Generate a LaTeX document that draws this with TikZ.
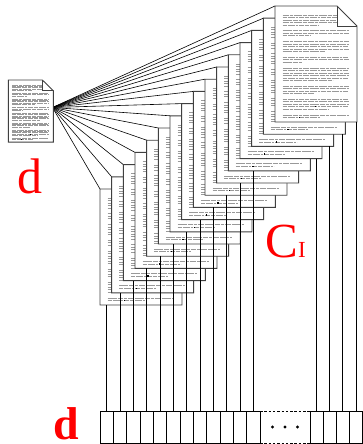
\documentclass[tikz,border=0pt]{standalone}
\usepackage{fontspec}
\setmainfont{Liberation Serif}
\usetikzlibrary{calc}

\tikzset{
  pageedge/.style={draw=black!75, line width=0.9pt, fill=white, line join=miter},
  foldedge/.style={draw=black!75, line width=0.7pt},
  rowA/.style={draw=black!40, dash pattern=on 6pt off 1pt on 3pt off 1pt on 8pt off 1pt on 4pt off 1pt},
  rowB/.style={draw=black!40, dash pattern=on 4pt off 1pt on 7pt off 1pt on 2pt off 1pt on 5pt off 1pt},
  rowC/.style={draw=black!40, dash pattern=on 9pt off 1pt on 5pt off 1pt on 3pt off 1pt on 6pt off 1pt},
  fanline/.style={draw=black, line width=0.6pt},
  drop/.style={draw=black, line width=0.7pt},
  cell/.style={draw=black, line width=0.8pt, minimum width=13.333pt, minimum height=32pt,
               inner sep=0pt, outer sep=0pt, anchor=north west},
  redlbl/.style={text=red, inner sep=0pt, anchor=base west}
}

% one page: outline with a folded corner, paragraphs of running text
\newcommand\pagebody[1]{%
  \path[pageedge] (0,0) -- (62,0) -- (82,20) -- (82,116) -- (0,116) -- cycle;
  \draw[foldedge] (62,0) -- (62,20) -- (82,20);
  \foreach \yy/\ll/\st in {
      9/54/A, 11.5/54/B, 14/54/C, 16.5/54/A, 19/36/B,
      24.7/66/C, 27.2/66/A, 29.7/28/B,
      35.4/66/A, 37.9/66/C, 40.4/66/B, 42.9/66/A, 45.4/42/C,
      51.1/66/B, 53.6/66/A, 56.1/20/C,
      61.8/66/C, 64.3/66/B, 66.8/66/A, 69.3/66/C, 71.8/66/B, 74.3/50/A,
      80/66/A, 82.5/66/C, 85/66/B, 87.5/32/A,
      93.2/66/B, 95.7/66/A, 98.2/66/C, 100.7/66/B, 103.2/46/A,
      108.9/66/C, 111.4/38/B}
    \draw[row\st, line width=#1] (7.5,\yy) -- ++(\ll,0);
  \fill[black] (40,101.4) rectangle ++(1.3,-1.3);
  \fill[black] (24,112.1) rectangle ++(1.3,-1.3);
}

\begin{document}
\begin{tikzpicture}[x=1pt,y=-1pt]
\useasboundingbox (0,0) rectangle (363,444);

% meeting point of the fan on the single page
\coordinate (src) at (52.5,107.5);

% top-left corners of the sixteen stacked pages
\foreach \k in {0,...,15} {
  \coordinate (p\k) at ({100+11.667*\k},{189-12.2*\k});
  \coordinate (q\k) at ($(p\k)+(0,116)$);
}

% fan from the single page to every page of the stack
\foreach \k in {0,...,15} \draw[fanline] (src) -- (p\k);

% the single page
\begin{scope}[shift={(8.3,80)}, xscale=0.549, yscale=0.535]
  \pagebody{0.35pt}
\end{scope}

% the stack, lower-left page first
\foreach \k in {0,...,15} {
  \begin{scope}[shift={(p\k)}]
    \pagebody{0.55pt}
  \end{scope}
}

% the vector of cells
\foreach \i in {0,...,11} \node[cell] (c\i) at ({100+13.333*\i},411) {};
\foreach \i in {12,...,15} \node[cell, minimum width=13.1pt] (c\i) at ({310+13.1*(\i-12)},411) {};
\draw[black, line width=0.8pt, dash pattern=on 2.5pt off 1.8pt]
  (c11.north east) -- (c12.north west)
  (c11.south east) -- (c12.south west);
\coordinate (gap) at ($(c11.east)!0.5!(c12.west)$);
\fill (gap) circle[radius=1.7pt];
\fill ($(gap)+(-12.5,0)$) circle[radius=1.7pt];
\fill ($(gap)+(12.5,0)$) circle[radius=1.7pt];

% each page drops onto its cell
\foreach \k in {0,...,15} \draw[drop] (c\k.north |- q\k) -- (c\k.north);

% labels
\node[redlbl, font=\fontsize{50}{50}\selectfont] (dsrc) at (17,193.3) {d};
\node[redlbl, font=\fontsize{49}{49}\selectfont] (ci) at (265.3,257.5) {C{\fontsize{23}{23}\selectfont I}};
\node[redlbl, font=\fontsize{46}{46}\selectfont\bfseries] (dvec) at (53.5,439.3) {d};
\end{tikzpicture}
\end{document}
